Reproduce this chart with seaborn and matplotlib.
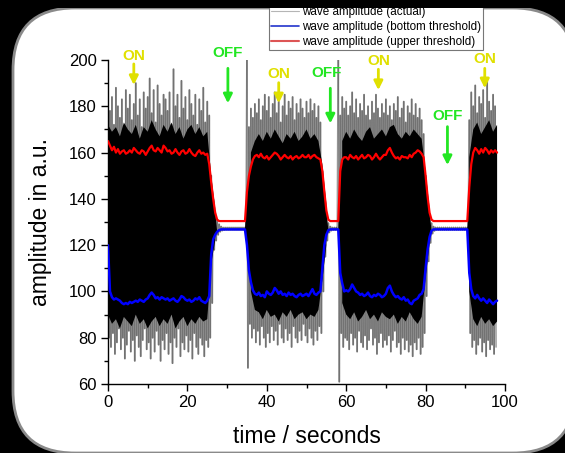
import numpy as np
import pandas as pd
import matplotlib
matplotlib.use("Agg")
import matplotlib.pyplot as plt
import seaborn as sns
from matplotlib.patches import FancyBboxPatch, Rectangle
from matplotlib.lines import Line2D
from matplotlib.ticker import MultipleLocator

sns.set_theme(style="ticks")
plt.rcParams["font.family"] = ["Liberation Sans", "DejaVu Sans"]

nan = np.nan

# ---------------- data ----------------
# sampling grid for the thresholds: 0 .. 98 s every 0.5 s
time_s = np.arange(197) * 0.5

upper_threshold = [
    165, 163, 161, 162.5, 160, 161.5, 159.5, 160.5, 161, 159.5, 160, 161, 160, 162, 161, 160, 159.5, 161, 160.5, 159,
    160.5, 162, 163, 161, 160.5, 162, 161, 160, 163, 162, 160.5, 161, 159.5, 160, 161.5, 160, 159, 160.5, 161, 159.5,
    160, 161.5, 160, 159, 158.5, 160, 161, 159.5, 160, 159, 159.5, 155, 147, 140, 134, 131, 130.4, 130.4, 130.4, 130.4,
    130.4, 130.4, 130.4, 130.4, 130.4, 130.4, 130.4, 130.4, 130.4, 130.4, 143, 150, 154, 157, 158.5, 159, 158, 159.5, 158, 157.5,
    158.5, 157, 158, 159, 160, 159.5, 158.5, 157, 158, 159, 158, 157.5, 158.5, 157, 158, 158.5, 157.5, 158, 159, 158,
    158, 159, 157.5, 158.5, 159, 158, 157.5, 157, 152, 143, 135, 131, 130.4, 130.4, 130.4, 130.4, 130.4, 152, 157, 158,
    158, 157, 159, 158, 157.5, 158.5, 157, 158, 159, 157.5, 158, 159, 158.5, 157, 158, 159.5, 158, 157, 158, 159,
    159, 161, 162, 160, 158.5, 157.5, 158, 157, 158.5, 158, 158, 157.5, 159, 158, 159.5, 160, 161, 160.5, 159.5, 158,
    150, 141, 134, 131, 130.4, 130.4, 130.4, 130.4, 130.4, 130.4, 130.4, 130.4, 130.4, 130.4, 130.4, 130.4, 130.4, 130.4, 130.4, 130.4,
    130.4, 130.4, 145, 155, 160, 162, 161, 159.5, 161.5, 160, 162, 161, 159.5, 161, 160, 161, 160,
]

bottom_threshold = [
    120, 100, 97.5, 96.5, 97, 96.5, 96, 95, 94.5, 95, 94.5, 95.5, 95, 95.5, 96, 95.5, 96.5, 96, 95.5, 96.5,
    97, 98.5, 99.5, 98.5, 97, 97.5, 96.5, 97.5, 97, 96.5, 97, 96, 96.5, 97, 96, 95.5, 96.5, 98, 97.5, 96.5,
    96, 96.5, 95.5, 96, 97, 96.5, 97.5, 96, 95.5, 95, 96, 98, 116, 122.5, 124.5, 125.8, 126.5, 126.8, 126.8, 126.8,
    126.8, 126.8, 126.8, 126.8, 126.8, 126.8, 126.8, 126.8, 126.8, 126.8, 120, 109, 104, 100.5, 99, 98.5, 99.5, 98, 98.5, 97.5,
    100, 99, 98.5, 99.5, 101.5, 100.5, 99, 100, 98.5, 99, 98, 99.5, 98.5, 99, 98, 97.5, 98.5, 99, 98, 98.5,
    99, 98, 99.5, 101, 99, 98.5, 99.5, 100, 110, 120, 124.5, 126.5, 126.8, 126.8, 126.8, 126.8, 126.8, 108, 103.5, 100,
    100.5, 100, 101, 103, 101.5, 100, 99.5, 98.5, 99, 98, 98.5, 99.5, 98, 97.5, 98.5, 98, 99, 98.5, 97.5, 98,
    99, 101.5, 102.5, 100, 98.5, 97.5, 98, 97, 96.5, 97.5, 96, 96.5, 95, 94.5, 96, 96.5, 97, 98.5, 99, 101,
    110, 118, 123.5, 126.3, 126.8, 126.8, 126.8, 126.8, 126.8, 126.8, 126.8, 126.8, 126.8, 126.8, 126.8, 126.8, 126.8, 126.8, 126.8, 126.8,
    126.8, 126.8, 108, 101, 98, 97, 98.5, 97, 96, 97, 96, 95, 96.5, 95.5, 94.5, 95.5, 96,
]

# wave peaks: a maximum at each grid time, a minimum a quarter second later (0 .. 97.5 s)
wave_peak_high = [
    186, 178, 184, 172, 188, 180, 175, 183, 170, 187, 179, 185, 174, 181, 190, 176, 183, 171, 186, 179,
    184, 192, 177, 187, 173, 189, 181, 176, 185, 183, 178, 186, 172, 196, 180, 185, 175, 191, 179, 184,
    174, 187, 181, 176, 185, 172, 183, 178, 188, 173, 182, 176, 150, 140, 134, 131, 129, 128, 127.6, 127.6,
    127.6, 127.6, 127.6, 127.6, 127.6, 127.6, 127.6, 127.6, 127.6, 127.6, 200, 171, 179, 175, 181, 177, 183, 174, 180, 185,
    178, 184, 175, 181, 186, 177, 182, 173, 180, 185, 176, 182, 179, 184, 174, 181, 177, 183, 179, 175,
    182, 177, 183, 178, 181, 175, 180, 173, 152, 140, 133, 129.5, 128, 127.6, 127.6, 127.6, 200, 176, 184, 179,
    182, 176, 180, 186, 177, 183, 175, 181, 178, 185, 176, 180, 174, 182, 177, 185, 179, 175, 181, 177,
    183, 176, 180, 174, 181, 178, 184, 175, 179, 182, 173, 180, 177, 183, 176, 181, 175, 179, 174, 168,
    150, 140, 133, 129.5, 128, 127.6, 127.6, 127.6, 127.6, 127.6, 127.6, 127.6, 127.6, 127.6, 127.6, 127.6, 127.6, 127.6, 127.6, 127.6,
    127.6, 127.6, 174, 186, 180, 189, 177, 184, 181, 187, 175, 191, 182, 178, 185, 180,
]

wave_peak_low = [
    80, 76, 82, 73, 78, 84, 75, 80, 71, 77, 83, 74, 79, 70, 81, 76, 72, 79, 84, 75,
    78, 71, 80, 74, 83, 77, 70, 79, 75, 82, 73, 78, 69, 80, 76, 84, 72, 78, 75, 81,
    74, 79, 71, 82, 76, 73, 80, 77, 72, 79, 76, 80, 95, 118, 122, 124.5, 125.8, 126.3, 126.5, 126.6,
    126.6, 126.6, 126.6, 126.6, 126.6, 126.6, 126.6, 126.6, 126.6, 126.6, 67, 86, 80, 84, 78, 83, 77, 85, 80, 76,
    82, 78, 85, 79, 83, 77, 86, 80, 78, 84, 79, 82, 76, 85, 80, 78, 83, 79, 86, 81,
    78, 84, 80, 77, 83, 79, 85, 82, 100, 115, 122, 125.5, 126.3, 126.6, 126.6, 126.6, 61, 82, 76, 80,
    79, 75, 82, 77, 80, 74, 83, 78, 76, 81, 75, 79, 84, 77, 80, 73, 78, 82, 76, 79,
    77, 81, 74, 79, 83, 76, 78, 73, 80, 75, 79, 74, 77, 72, 78, 75, 80, 73, 76, 82,
    98, 113, 121, 125, 126.2, 126.6, 126.6, 126.6, 126.6, 126.6, 126.6, 126.6, 126.6, 126.6, 126.6, 126.6, 126.6, 126.6, 126.6, 126.6,
    126.6, 126.6, 82, 76, 79, 73, 77, 80, 74, 78, 72, 79, 75, 77, 73, 76,
]

# solid (dense) part of the oscillation, read every second (0 .. 98 s); gaps = OFF
dense_time = np.arange(99) * 1.0
dense_top = [
    172, 169, 171, 167, 173, 170, 168, 172, 166, 171, 169, 174, 170, 167, 172, 169, 173, 168, 171, 166,
    170, 172, 168, 171, 167, 169, 150, 136, nan, nan, nan, nan, nan, nan, nan, nan, 160, 165, 168, 165,
    169, 166, 170, 167, 164, 168, 166, 169, 165, 167, 170, 166, 168, 165, 155, 138, nan, nan, nan, 165,
    169, 166, 170, 167, 165, 169, 171, 166, 168, 170, 167, 171, 172, 168, 166, 169, 167, 170, 168, 166,
    152, 136, nan, nan, nan, nan, nan, nan, nan, nan, nan, 158, 170, 173, 168, 171, 174, 169, 172,
]
dense_bottom = [
    90, 86, 88, 84, 89, 87, 85, 90, 86, 88, 84, 87, 89, 85, 88, 86, 90, 84, 87, 89,
    85, 88, 86, 89, 87, 88, 112, 122, nan, nan, nan, nan, nan, nan, nan, nan, 100, 92, 91, 88,
    92, 89, 90, 87, 91, 89, 92, 88, 90, 91, 88, 90, 89, 92, 105, 120, nan, nan, nan, 95,
    90, 88, 91, 87, 89, 92, 88, 90, 87, 91, 89, 88, 90, 86, 89, 87, 91, 88, 86, 89,
    106, 121, nan, nan, nan, nan, nan, nan, nan, nan, nan, 100, 88, 85, 89, 86, 88, 85, 87,
]

# annotations: label, time, text level, arrow start, arrow tip
ann_labels = ["ON", "OFF", "ON", "OFF", "ON", "OFF", "ON"]
ann_time = [6.6, 30.2, 43.0, 55.0, 68.1, 85.5, 94.9]
ann_text_y = [201.8, 203.2, 193.9, 194.2, 199.6, 175.9, 200.4]
ann_arrow_top = [198.3, 196.4, 190.2, 187.8, 196.0, 171.2, 196.4]
ann_arrow_tip = [189.2, 181.3, 181.3, 172.6, 187.0, 154.6, 187.8]
ann_arrow_x = [6.5, 30.2, 43.0, 56.0, 68.1, 85.5, 94.9]

legend_labels = ["wave amplitude (actual)", "wave amplitude (bottom threshold)",
                 "wave amplitude (upper threshold)"]
xticks = [0, 20, 40, 60, 80, 100]
yticks = [60, 80, 100, 120, 140, 160, 180, 200]

# ---------------- build frames ----------------
upper = np.asarray(upper_threshold, dtype=float)
bottom = np.asarray(bottom_threshold, dtype=float)
hi = np.asarray(wave_peak_high, dtype=float)
lo = np.asarray(wave_peak_low, dtype=float)
t_peaks = time_s[: len(hi)]
wave_t = np.empty(2 * len(hi))
wave_v = np.empty(2 * len(hi))
wave_t[0::2] = t_peaks
wave_t[1::2] = t_peaks + 0.25
wave_v[0::2] = hi
wave_v[1::2] = lo
# each stroke of the wave (one extreme to the next) as its own unit so that
# overlapping strokes darken where the signal is dense
n_seg = len(wave_t) - 1
seg_idx = np.repeat(np.arange(n_seg), 2)
pt_idx = np.column_stack([np.arange(n_seg), np.arange(1, n_seg + 1)]).ravel()
wave_df = pd.DataFrame({"t": wave_t[pt_idx], "v": wave_v[pt_idx], "stroke": seg_idx})
thr_df = pd.DataFrame({"t": time_s, "upper": upper, "bottom": bottom})
dense_df = pd.DataFrame({"t": dense_time, "top": dense_top, "bot": dense_bottom})

# ---------------- figure ----------------
W, H = 565, 453
fig = plt.figure(figsize=(W / 100, H / 100), dpi=100, facecolor="black")

panel = FancyBboxPatch((13, 0), 562, 445, boxstyle="round,pad=0,rounding_size=62",
                       transform=None, facecolor="white", edgecolor="#8a8a8a",
                       linewidth=2, zorder=-5)
fig.patches.append(panel)

ax = fig.add_axes([108 / W, 1 - 384 / H, 397 / W, 324 / H])
ax.set_facecolor("none")

# dense core of the oscillation
ax.fill_between(thr_df["t"], thr_df["bottom"], thr_df["upper"],
                where=(thr_df["upper"] - thr_df["bottom"]) > 8, interpolate=True,
                color="black", linewidth=0, zorder=1)
ax.fill_between(dense_df["t"], dense_df["bot"], dense_df["top"], color="black",
                linewidth=0, zorder=1)

sns.lineplot(data=wave_df, x="t", y="v", units="stroke", estimator=None, ax=ax,
             color="black", linewidth=1.3, alpha=0.33, sort=False, zorder=2, legend=False)
sns.lineplot(data=thr_df, x="t", y="bottom", ax=ax, color="#0000ff", linewidth=1.8,
             sort=False, estimator=None, zorder=3, legend=False)
sns.lineplot(data=thr_df, x="t", y="upper", ax=ax, color="#ff0000", linewidth=1.6,
             sort=False, estimator=None, zorder=4, legend=False)

ax.set_xlim(0, 100)
ax.set_ylim(60, 200)
ax.set_xticks(xticks)
ax.set_yticks(yticks)
ax.xaxis.set_minor_locator(MultipleLocator(10))
ax.yaxis.set_minor_locator(MultipleLocator(10))
ax.tick_params(axis="both", which="major", direction="out", length=5, width=1,
               labelsize=12, colors="black", pad=3)
ax.tick_params(axis="both", which="minor", direction="out", length=3, width=1, colors="black")
sns.despine(ax=ax)
for s in ("left", "bottom"):
    ax.spines[s].set_color("black")
    ax.spines[s].set_linewidth(1)
ax.grid(False)

ax.set_xlabel("time / seconds", fontsize=16.5, color="black")
ax.set_ylabel("amplitude in a.u.", fontsize=16.5, color="black")
ax.xaxis.set_label_coords(0.5, -0.126)
ax.yaxis.set_label_coords(-0.142, 0.5)

colors = {"ON": "#e0e000", "OFF": "#22e622"}
for lab, tx, ty, ax_x, a0, a1 in zip(ann_labels, ann_time, ann_text_y, ann_arrow_x,
                                     ann_arrow_top, ann_arrow_tip):
    c = colors[lab]
    ax.text(tx, ty, lab, color=c, fontsize=11, fontweight="bold", ha="center",
            va="center", zorder=6, clip_on=False)
    ax.annotate("", xy=(ax_x, a1), xytext=(ax_x, a0),
                arrowprops=dict(arrowstyle="-|>", color=c, lw=2, mutation_scale=13,
                                shrinkA=0, shrinkB=0),
                annotation_clip=False, zorder=6)

handles = [Line2D([], [], color="#b5b5b5", lw=0.8),
           Line2D([], [], color="#2233cc", lw=1.2),
           Line2D([], [], color="#dd5555", lw=1.5)]
leg = ax.legend(handles, legend_labels, loc="lower left",
                bbox_to_anchor=((269 - 108) / 397, (384 - 50) / 324),
                borderaxespad=0, fontsize=8.4, frameon=True, fancybox=False,
                framealpha=1, edgecolor="#777777", handlelength=2.4, handletextpad=0.3,
                labelspacing=0.28, borderpad=0.15)
leg.get_frame().set_linewidth(0.8)
for txt in leg.get_texts():
    txt.set_color("black")

# black strip clipping the legend above the panel
fig.patches.append(Rectangle((0, 445), W, 10, transform=None, facecolor="black",
                             edgecolor="none", zorder=10))

fig.savefig("out.png", dpi=100, facecolor="black")
